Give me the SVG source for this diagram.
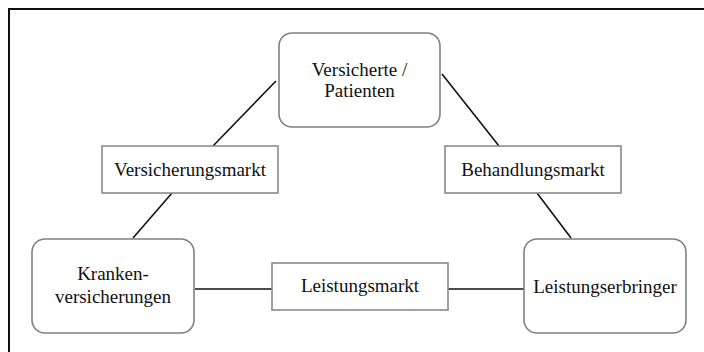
<svg xmlns="http://www.w3.org/2000/svg" width="704" height="352" viewBox="0 0 704 352">
<style>
.node{fill:#fff;stroke:#808080;stroke-width:1.6}
.lbl{fill:#fff;stroke:#8a8a8a;stroke-width:1.6}
.edge{stroke:#111;stroke-width:1.6;fill:none}
text{font-family:"Liberation Serif","Times New Roman",serif;font-size:19px;fill:#111;text-anchor:middle}
</style>
<rect width="704" height="352" fill="#fff"/>
<path d="M9 352 V9 H704" fill="none" stroke="#111" stroke-width="2"/>
<g id="connectors">
<line class="edge" x1="276" y1="81" x2="213" y2="146"/>
<line class="edge" x1="172" y1="193" x2="133" y2="238"/>
<line class="edge" x1="442" y1="74" x2="499" y2="146"/>
<line class="edge" x1="537" y1="193" x2="571" y2="238"/>
<line class="edge" x1="195" y1="289" x2="272" y2="289"/>
<line class="edge" x1="448" y1="289" x2="524" y2="289"/>
</g>
<g id="versicherte">
<rect class="node" x="279" y="33" width="161" height="94" rx="13"/>
<text x="359.5" y="76">Versicherte /</text>
<text x="359.5" y="97">Patienten</text>
</g>
<g id="krankenversicherungen">
<rect class="node" x="32" y="239" width="162" height="94" rx="13"/>
<text x="113" y="280">Kranken-</text>
<text x="113" y="303">versicherungen</text>
</g>
<g id="leistungserbringer">
<rect class="node" x="524" y="239" width="162" height="94" rx="13"/>
<text x="605" y="293">Leistungserbringer</text>
</g>
<g id="versicherungsmarkt">
<rect class="lbl" x="102" y="146" width="176" height="47"/>
<text x="190" y="176">Versicherungsmarkt</text>
</g>
<g id="behandlungsmarkt">
<rect class="lbl" x="445" y="146" width="176" height="47"/>
<text x="533" y="176">Behandlungsmarkt</text>
</g>
<g id="leistungsmarkt">
<rect class="lbl" x="272" y="263" width="176" height="47"/>
<text x="360" y="292">Leistungsmarkt</text>
</g>
</svg>
